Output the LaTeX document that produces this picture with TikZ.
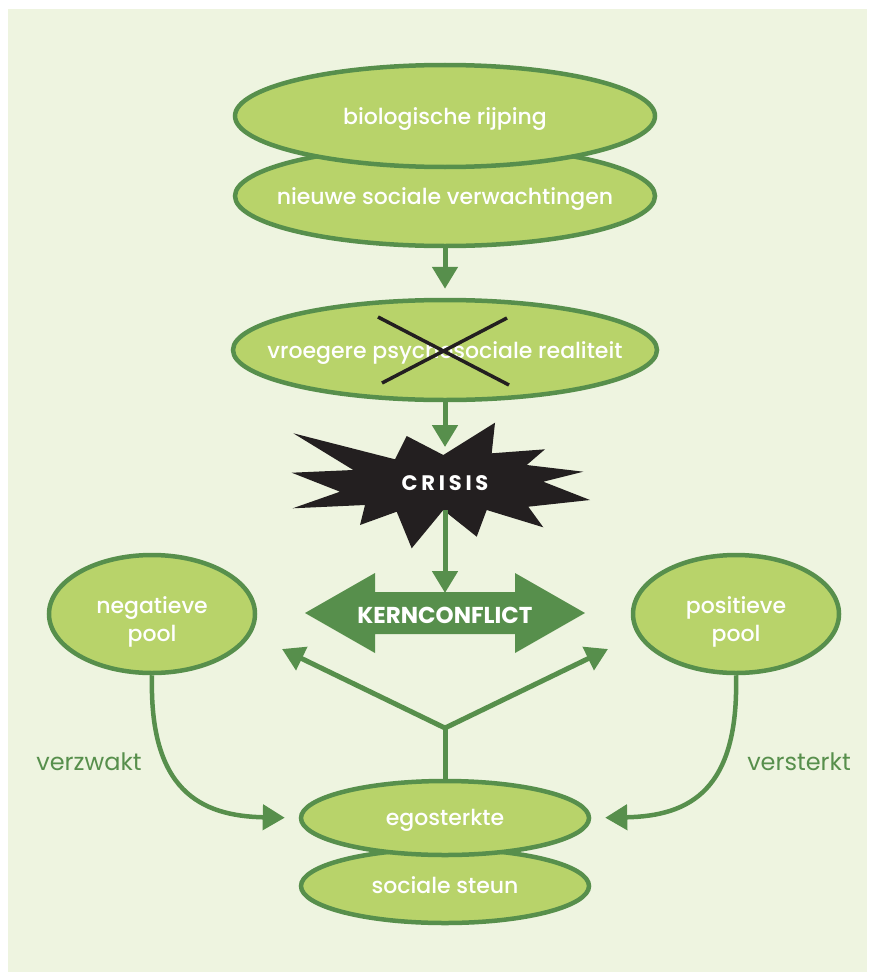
\documentclass[tikz,border=0pt]{standalone}
\usepackage{fontspec}
\setmainfont{Poppins}
\newfontfamily\medpop{Poppins Medium}
\usetikzlibrary{arrows.meta,shapes.geometric}
\definecolor{bg}{HTML}{EEF4E0}
\definecolor{fillg}{HTML}{B8D36A}
\definecolor{dg}{HTML}{578F4C}
\definecolor{crisisblack}{HTML}{231F20}
\newcommand{\zw}[2][8pt]{\makebox[0pt]{\raisebox{-#1}[0pt][0pt]{#2}}}
\newcommand{\twol}[2]{\makebox[0pt]{\raisebox{1pt}[0pt][0pt]{\begin{tabular}[t]{@{}c@{}}#1\\#2\end{tabular}}}}
\begin{document}
\begin{tikzpicture}[x=1pt,y=-1pt,
  el/.style={ellipse, draw=dg, line width=4.5pt, fill=fillg, inner sep=0pt,
     text=white, font=\medpop\fontsize{22}{28}\selectfont, align=center},
  conn/.style={draw=dg, line width=5pt, -{Triangle[length=22pt,width=25pt]}},
  curv/.style={draw=dg, line width=4.5pt, -{Triangle[length=22pt,width=25pt]}},
  side/.style={text=dg, font=\fontsize{24}{28}\selectfont}
]
\useasboundingbox (0,0) rectangle (869,974);
\fill[white] (0,0) rectangle (869,974);
\fill[bg] (8,9) rectangle (867,972);

% top ellipses
\node[el, minimum width=420pt, minimum height=100pt] (e2) at (445,196) {\zw{nieuwe sociale verwachtingen}};
\node[el, minimum width=420pt, minimum height=102pt] (e1) at (445,116) {\zw{biologische rijping}};
\node[el, minimum width=424pt, minimum height=100pt] (e3) at (445,350) {\zw{vroegere psychosociale realiteit}};
\draw[line width=3.5pt, crisisblack] (378,317) -- (509,385);
\draw[line width=3.5pt, crisisblack] (382,383) -- (507,318);

\draw[conn, shorten >=9pt] (e2.south) -- (e3.north);

% crisis star
\fill[crisisblack] (293.3,433.3) -- (395,459.3) -- (406.7,436) -- (443.3,455) -- (495,422.7)
  -- (491.7,453.3) -- (545,449.3) -- (526.7,465) -- (583.3,471.7) -- (543.3,481.7)
  -- (590,500) -- (528.3,506.7) -- (543.3,527.3) -- (486.7,510) -- (476.7,536.7)
  -- (443.3,510) -- (411.7,548.3) -- (396.7,511.7) -- (360,525) -- (365,505)
  -- (292.7,508.3) -- (340,491.7) -- (291.7,472.7) -- (353.3,470) -- cycle;
\node[text=white, font=\fontsize{21}{24}\bfseries\addfontfeature{LetterSpace=18}] (crisis) at (445,483) {CRISIS};
\coordinate (crisisin) at (445,447);
\coordinate (crisisout) at (445,510);
\draw[conn] (e3.south) -- (crisisin);

% kernconflict double arrow
\fill[dg] (305,613) -- (375,573) -- (375,592) -- (515,592) -- (515,573) -- (585,613)
  -- (515,653) -- (515,634) -- (375,634) -- (375,653) -- cycle;
\node[text=white, font=\fontsize{23}{26}\bfseries] (kc) at (445,615) {KERNCONFLICT};
\coordinate (kcin) at (445,593);
\draw[conn] (crisisout) -- (kcin);

% poles
\node[el, minimum width=206pt, minimum height=118pt] (neg) at (152,614) {\twol{negatieve}{pool}};
\node[el, minimum width=206pt, minimum height=118pt] (pos) at (736,614) {\twol{positieve}{pool}};

% bottom ellipses
\node[el, minimum width=288pt, minimum height=74pt] (soc) at (445,886) {\zw[7pt]{sociale steun}};
\node[el, minimum width=288pt, minimum height=74pt] (ego) at (445,818) {\zw[7pt]{egosterkte}};

% fork
\coordinate (fork) at (445,728);
\coordinate (forkL) at (282,649);
\coordinate (forkR) at (608,649);
\draw[draw=dg, line width=5pt] (ego.north) -- (fork);
\draw[conn] (fork) -- (forkL);
\draw[conn] (fork) -- (forkR);

% curves
\draw[curv, shorten >=14pt] (neg.south) .. controls (149,790) and (200,816) .. (ego.west);
\draw[curv, shorten >=14pt] (pos.south) .. controls (739,790) and (690,816) .. (ego.east);

\node[side] (vz) at (89,762) {verzwakt};
\node[side] (vs) at (799,762) {versterkt};
\end{tikzpicture}
\end{document}
